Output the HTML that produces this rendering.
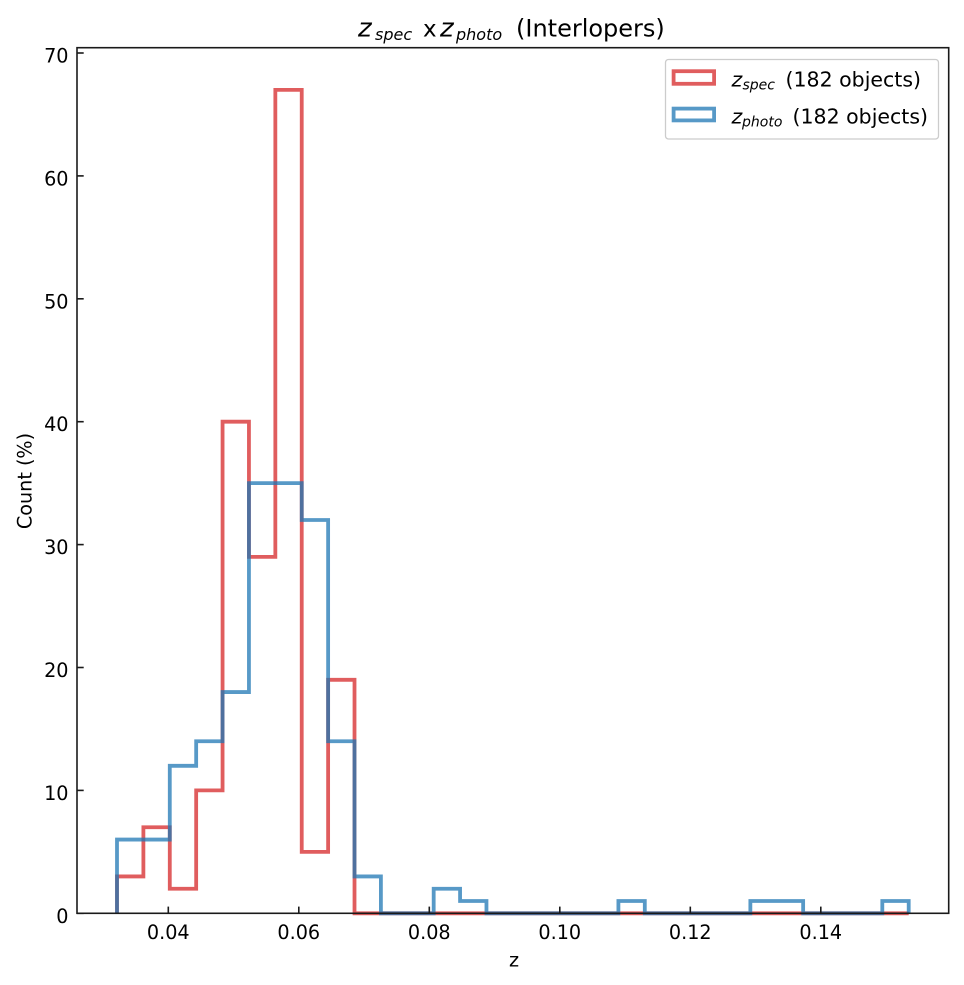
<!DOCTYPE html>
<html>
<head>
<meta charset="utf-8">
<style>
  html, body { margin: 0; padding: 0; background: #ffffff; }
  svg { display: block; }
  text { font-family: "DejaVu Sans", "Liberation Sans", sans-serif; fill: #000; }
</style>
</head>
<body>
<svg width="964" height="985" viewBox="0 0 964 985" xmlns="http://www.w3.org/2000/svg">
  <rect x="0" y="0" width="964" height="985" fill="#ffffff"/>

  <!-- Title -->
  <text y="36.5" font-size="23">
    <tspan x="358" font-style="italic" font-size="26">z</tspan><tspan x="375" y="40" font-size="16" font-style="italic">spec</tspan><tspan x="423" y="36.5">x</tspan><tspan x="440" font-style="italic" font-size="26">z</tspan><tspan x="456" y="40" font-size="16" font-style="italic">photo</tspan><tspan x="516" y="36.5" font-size="24">(Interlopers)</tspan>
  </text>

  <!-- Histograms -->
  <path d="M117,913.3 V876.43 H143.39 V827.27 H169.78 V888.72 H196.17 V790.4 H222.56 V421.7 H248.95 V556.89 H275.34 V89.87 H301.73 V851.85 H328.12 V679.79 H354.51 V913.3 H908.7"
        fill="none" stroke="#d62728" stroke-opacity="0.75" stroke-width="3.8" stroke-linejoin="miter"/>
  <path d="M117,913.3 V839.56 H169.78 V765.82 H196.17 V741.24 H222.56 V692.08 H248.95 V483.15 H301.73 V520.02 H328.12 V741.24 H354.51 V876.43 H380.9 V913.3 H433.68 V888.72 H460.07 V901.01 H486.46 V913.3 H618.41 V901.01 H644.8 V913.3 H750.36 V901.01 H803.14 V913.3 H882.31 V901.01 H908.7 V913.3"
        fill="none" stroke="#1f77b4" stroke-opacity="0.75" stroke-width="3.8" stroke-linejoin="miter"/>

  <!-- Spines -->
  <rect x="77" y="47.7" width="871.7" height="865.6" fill="none" stroke="#1a1a1a" stroke-width="1.6"/>

  <!-- X ticks (inward) -->
  <g stroke="#1a1a1a" stroke-width="1.6">
    <line x1="168.3" y1="913.3" x2="168.3" y2="906.6"/>
    <line x1="298.8" y1="913.3" x2="298.8" y2="906.6"/>
    <line x1="429.3" y1="913.3" x2="429.3" y2="906.6"/>
    <line x1="559.8" y1="913.3" x2="559.8" y2="906.6"/>
    <line x1="690.3" y1="913.3" x2="690.3" y2="906.6"/>
    <line x1="820.8" y1="913.3" x2="820.8" y2="906.6"/>
  </g>
  <g font-size="19.2" text-anchor="middle">
    <text x="168.3" y="939">0.04</text>
    <text x="298.8" y="939">0.06</text>
    <text x="429.3" y="939">0.08</text>
    <text x="559.8" y="939">0.10</text>
    <text x="690.3" y="939">0.12</text>
    <text x="820.8" y="939">0.14</text>
  </g>

  <!-- Y ticks (inward) -->
  <g stroke="#1a1a1a" stroke-width="1.6">
    <line x1="77" y1="913.3" x2="83.7" y2="913.3"/>
    <line x1="77" y1="790.4" x2="83.7" y2="790.4"/>
    <line x1="77" y1="667.5" x2="83.7" y2="667.5"/>
    <line x1="77" y1="544.6" x2="83.7" y2="544.6"/>
    <line x1="77" y1="421.7" x2="83.7" y2="421.7"/>
    <line x1="77" y1="298.8" x2="83.7" y2="298.8"/>
    <line x1="77" y1="175.9" x2="83.7" y2="175.9"/>
    <line x1="77" y1="53" x2="83.7" y2="53"/>
  </g>
  <g font-size="19.2" text-anchor="end">
    <text x="68.5" y="922.8">0</text>
    <text x="68.5" y="799.9">10</text>
    <text x="68.5" y="677">20</text>
    <text x="68.5" y="554.1">30</text>
    <text x="68.5" y="431.2">40</text>
    <text x="68.5" y="308.3">50</text>
    <text x="68.5" y="185.4">60</text>
    <text x="68.5" y="62.5">70</text>
  </g>

  <!-- Axis labels -->
  <text x="514" y="966.5" font-size="19.2" text-anchor="middle">z</text>
  <text transform="translate(31.5,481) rotate(-90)" font-size="19.2" text-anchor="middle">Count (%)</text>

  <!-- Legend -->
  <rect x="665.5" y="59.5" width="273" height="79.5" rx="3" ry="3" fill="#ffffff" fill-opacity="0.8" stroke="#cccccc" stroke-width="1.3"/>
  <rect x="673.6" y="71.2" width="40.5" height="12.6" fill="none" stroke="#d62728" stroke-opacity="0.75" stroke-width="3.8"/>
  <rect x="673.6" y="108.6" width="40.5" height="11.8" fill="none" stroke="#1f77b4" stroke-opacity="0.75" stroke-width="3.8"/>
  <text y="86.5" font-size="20.5">
    <tspan x="731.5" font-style="italic">z</tspan><tspan x="742.5" y="89.5" font-size="14" font-style="italic">spec</tspan><tspan x="785.5" y="86.5">(182 objects)</tspan>
  </text>
  <text y="123.3" font-size="20.5">
    <tspan x="731.5" font-style="italic">z</tspan><tspan x="742" y="126.3" font-size="14" font-style="italic">photo</tspan><tspan x="792.5" y="123.3">(182 objects)</tspan>
  </text>
</svg>
</body>
</html>
